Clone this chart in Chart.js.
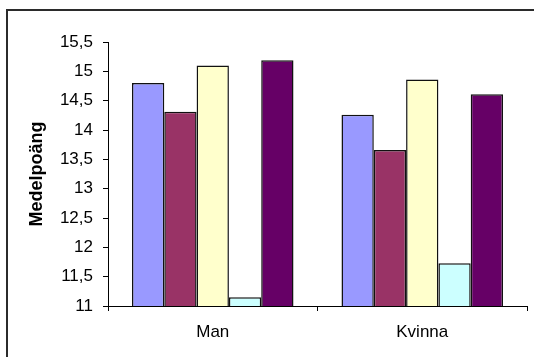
<!DOCTYPE html>
<html lang="sv">
<head>
  <meta charset="UTF-8">
  <title>Medelpoäng</title>
  <script src="https://cdn.jsdelivr.net/npm/chart.js"></script>
  <style>
    html, body {
      margin: 0;
      padding: 0;
      width: 534px;
      height: 357px;
      overflow: hidden;
      background: #fff;
    }
    /* chart frame, right and bottom edges run off the page */
    .frame {
      position: absolute;
      left: 6px;
      top: 9px;
      width: 600px;
      height: 420px;
      border: 2px solid #2b2b2b;
    }
    canvas {
      position: absolute;
      left: 0;
      top: 0;
    }
  </style>
</head>
<body>
  <div class="frame"></div>
  <canvas id="chart" width="534" height="357"></canvas>
  <script>
    // Categories and series values
    const categories = ['Man', 'Kvinna'];
    const seriesNames = ['Serie 1', 'Serie 2', 'Serie 3', 'Serie 4', 'Serie 5'];
    const serie1 = [14.8, 14.26];
    const serie2 = [14.31, 13.66];
    const serie3 = [15.1, 14.86];
    const serie4 = [11.15, 11.73];
    const serie5 = [15.19, 14.61];
    const colors = ['#9999FF', '#993366', '#FFFFCC', '#CCFFFF', '#660066'];

    const yMin = 11;
    const yMax = 15.5;
    const yStep = 0.5;

    const font = "'Liberation Sans', Arial, sans-serif";

    const allSeries = [serie1, serie2, serie3, serie4, serie5];
    const datasets = allSeries.map((values, i) => ({
      label: seriesNames[i],
      data: values,
      backgroundColor: colors[i],
      borderColor: '#111',
      borderWidth: 1.5,
      categoryPercentage: 0.771,
      barPercentage: 1
    }));

    new Chart(document.getElementById('chart').getContext('2d'), {
      type: 'bar',
      data: { labels: categories, datasets: datasets },
      options: {
        responsive: false,
        animation: false,
        layout: { padding: { left: 0, top: 42, right: 7, bottom: 0 } },
        plugins: {
          legend: { display: false },
          tooltip: { enabled: false }
        },
        scales: {
          x: {
            afterFit: s => { s.height = 51; },
            grid: {
              offset: true,
              drawOnChartArea: false,
              drawTicks: true,
              tickLength: 5,
              color: '#000'
            },
            border: { color: '#000', width: 1 },
            ticks: {
              padding: 11,
              color: '#000',
              font: { family: font, size: 17 }
            }
          },
          y: {
            min: yMin,
            max: yMax,
            afterFit: s => { s.width = 108; },
            grid: {
              drawOnChartArea: false,
              drawTicks: true,
              tickLength: 5,
              color: '#000'
            },
            border: { color: '#000', width: 1 },
            ticks: {
              stepSize: yStep,
              padding: 10,
              color: '#000',
              font: { family: font, size: 17 },
              callback: v => String(v).replace('.', ',')
            },
            title: {
              display: true,
              text: 'Medelpoäng',
              color: '#000',
              padding: { top: 26, bottom: 0 },
              font: { family: font, size: 18, weight: 'bold' }
            }
          }
        }
      }
    });
  </script>
</body>
</html>
